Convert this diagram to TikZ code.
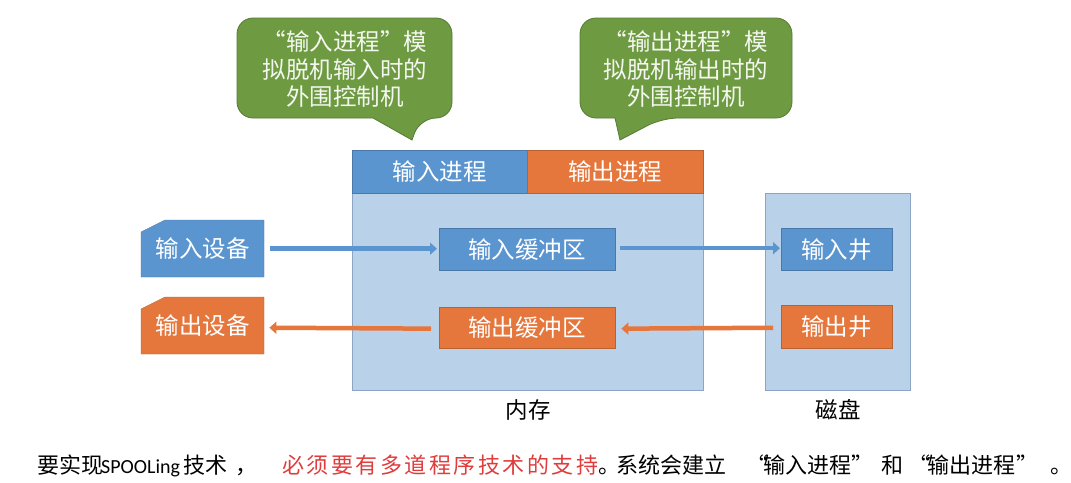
\documentclass[tikz,border=0pt]{standalone}
\usepackage{fontspec}
\setmainfont{Noto Sans CJK SC}
\newfontfamily\latinfont{Carlito}
\usetikzlibrary{arrows.meta}
\definecolor{oblue}{HTML}{5B95CF}
\definecolor{obluedk}{HTML}{4A78A8}
\definecolor{oorange}{HTML}{E5773D}
\definecolor{oorangedk}{HTML}{B86230}
\definecolor{lblue}{HTML}{B9D1E9}
\definecolor{lbluedk}{HTML}{8AA6C4}
\definecolor{ogreen}{HTML}{6E9B42}
\definecolor{ogreendk}{HTML}{557A33}
\definecolor{txtred}{HTML}{E03C3C}
\newcommand{\seg}[2]{\makebox[#1pt][l]{#2}}
\begin{document}
\begin{tikzpicture}[x=1pt,y=-1pt,
  boxfont/.style={font=\fontsize{23.5}{26}\selectfont},
  bluebox/.style={draw=obluedk,fill=oblue,text=white,inner sep=0pt,boxfont},
  orangebox/.style={draw=oorangedk,fill=oorange,text=white,inner sep=0pt,boxfont},
  region/.style={draw=lbluedk,fill=lblue,inner sep=0pt},
  callout/.style={draw=ogreendk,fill=ogreen,line width=0.8pt},
  callouttext/.style={text=white!92!ogreen,align=center,font=\fontsize{23.5}{27.5}\selectfont},
  barrow/.style={draw=oblue,line width=4.5pt,-{Triangle[length=7pt,width=12pt]}},
  oarrow/.style={draw=oorange,line width=4.5pt,-{Triangle[length=7pt,width=12pt]}},
  label/.style={font=\fontsize{22.5}{26}\selectfont}
]
\useasboundingbox (0,0) rectangle (1071,482);
\fill[white] (0,0) rectangle (1071,482);

% memory
\node[region,minimum width=351pt,minimum height=198pt,anchor=north west] (mem) at (352,192) {};
\node[bluebox,minimum width=175pt,minimum height=43pt,anchor=north west] (inproc) at (352,150) {输入进程};
\node[orangebox,minimum width=176pt,minimum height=43pt,anchor=north west] (outproc) at (527,150) {输出进程};
\node[bluebox,minimum width=176pt,minimum height=42pt,anchor=north west] (inbuf) at (439,228) {输入缓冲区};
\node[orangebox,minimum width=176pt,minimum height=41pt,anchor=north west] (outbuf) at (439,307) {输出缓冲区};
\node[label] (memlabel) at (528,410) {内存};

% disk
\node[region,minimum width=145pt,minimum height=197pt,anchor=north west] (disk) at (765,193) {};
\node[bluebox,minimum width=111pt,minimum height=42pt,anchor=north west] (inwell) at (781,228) {输入井};
\node[orangebox,minimum width=111pt,minimum height=43pt,anchor=north west] (outwell) at (781,305) {输出井};
\node[label] (disklabel) at (838,410) {磁盘};

% devices
\draw[draw=obluedk,fill=oblue] (141,232) -- (165,220) -- (264,220) -- (264,277) -- (141,277) -- cycle;
\node[text=white,boxfont,minimum width=123pt,minimum height=57pt,anchor=north west] (indev) at (141,220) {\raisebox{-3pt}{输入设备}};
\draw[draw=oorangedk,fill=oorange] (141,309) -- (165,297) -- (264,297) -- (264,354) -- (141,354) -- cycle;
\node[text=white,boxfont,minimum width=123pt,minimum height=57pt,anchor=north west] (outdev) at (141,297) {\raisebox{-3pt}{输出设备}};

% arrows
\draw[barrow,shorten <=6pt,shorten >=2pt] (indev.east) -- (inbuf.west |- indev.east);
\draw[barrow,shorten <=5pt,shorten >=1pt] ([yshift=1pt]inbuf.east) -- ([yshift=1pt]inwell.west);
\draw[oarrow,shorten <=8pt,shorten >=6pt] ([yshift=-1pt]outwell.west) -- ([yshift=-1pt]outbuf.east);
\draw[oarrow,shorten <=8pt,shorten >=5pt] ([yshift=-1pt]outbuf.west) -- (outdev.east |- outbuf.west);

% callouts
\draw[callout] (344,18) [rounded corners=16pt] -- (452,18) -- (452,118) -- (420,118) [sharp corners] -- (412,140) -- (373,118) [rounded corners=16pt] -- (237,118) -- (237,18) -- cycle;
\node[callouttext] (c1) at (345,69) {“输入进程”模\\拟脱机输入时的\\外围控制机};
\draw[callout] (686,18) [rounded corners=16pt] -- (792,18) -- (792,118) -- (662,118) [sharp corners] -- (620,140) -- (615,118) [rounded corners=16pt] -- (580,118) -- (580,18) -- cycle;
\node[callouttext] (c2) at (686,69) {“输出进程”模\\拟脱机输出时的\\外围控制机};

% bottom text
\node[anchor=west,font=\fontsize{22}{24}\selectfont,inner sep=0pt] (caption) at (37,466) {\seg{64}{要实现}\seg{82}{\fontsize{20}{24}\latinfont SPOOLing}\seg{52}{技术}\seg{47}{，}\makebox[316pt][s]{\color{txtred}必\hfil 须\hfil 要\hfil 有\hfil 多\hfil 道\hfil 程\hfil 序\hfil 技\hfil 术\hfil 的\hfil 支\hfil 持}\seg{18}{。}\seg{130}{系统会建立}\seg{17}{“}\seg{88}{输入进程}\seg{30}{”}\seg{27}{和}\seg{19}{“}\seg{89}{输出进程}\seg{34}{”}。};
\end{tikzpicture}
\end{document}
